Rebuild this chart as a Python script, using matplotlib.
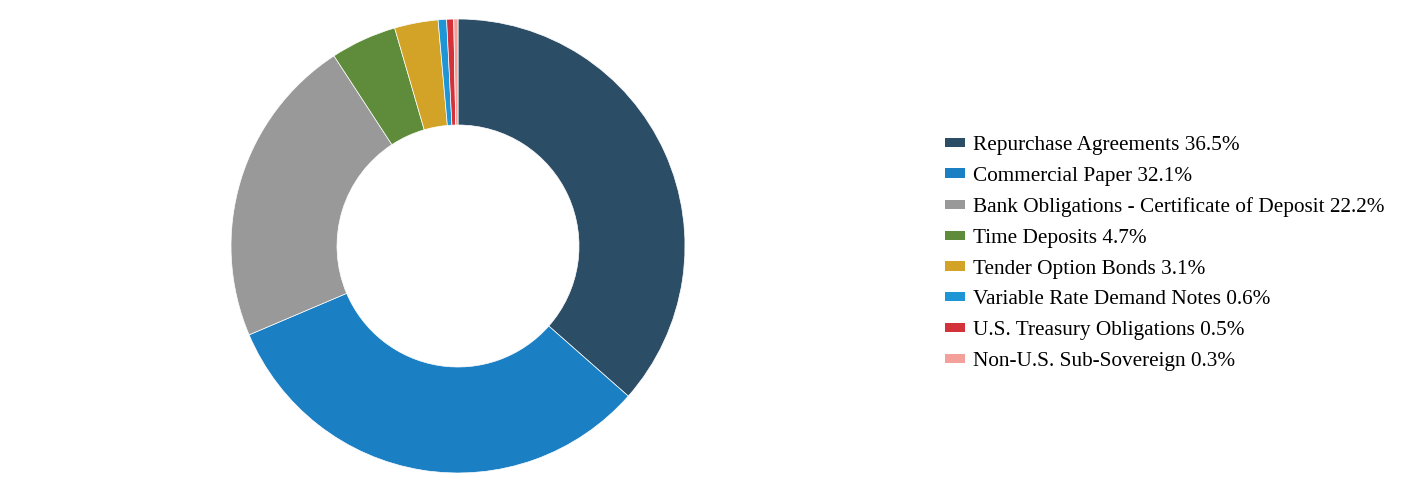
import matplotlib.pyplot as plt
from matplotlib.patches import Patch

# data
labels = ["Repurchase Agreements", "Commercial Paper",
          "Bank Obligations - Certificate of Deposit", "Time Deposits",
          "Tender Option Bonds", "Variable Rate Demand Notes",
          "U.S. Treasury Obligations", "Non-U.S. Sub-Sovereign"]
values = [36.5, 32.1, 22.2, 4.7, 3.1, 0.6, 0.5, 0.3]
colors = ["#2c4d66", "#1b7fc4", "#999999", "#5e8c3a",
          "#d3a328", "#1e96d6", "#d4323a", "#f4a09a"]

plt.rcParams['font.family'] = ['Liberation Serif', 'DejaVu Serif']

fig = plt.figure(figsize=(14.28, 5.04), dpi=100)

# donut: centre ~ (458, 246) px, outer radius ~227 px
W, H = 1428, 504
cx, cy, r = 458, 246, 227
ax = fig.add_axes([(cx - r) / W, (H - cy - r) / H, 2 * r / W, 2 * r / H])
ax.pie(values, colors=colors, startangle=90, counterclock=False,
       radius=1, wedgeprops=dict(width=1 - 121 / 227, edgecolor='white', linewidth=0.5))
ax.set_xlim(-1, 1)
ax.set_ylim(-1, 1)
ax.axis('off')

handles = [Patch(facecolor=c, edgecolor='none') for c in colors]
leg_labels = [f"{l} {v}%" for l, v in zip(labels, values)]
fig.legend(handles, leg_labels, loc='upper left',
           bbox_to_anchor=(945 / W, 1 - 136 / H), frameon=False,
           fontsize=15.3, handlelength=0.93, handleheight=0.28,
           handletextpad=0.37, labelspacing=0.55, borderpad=0, borderaxespad=0)

fig.savefig('out.png', dpi=100)
